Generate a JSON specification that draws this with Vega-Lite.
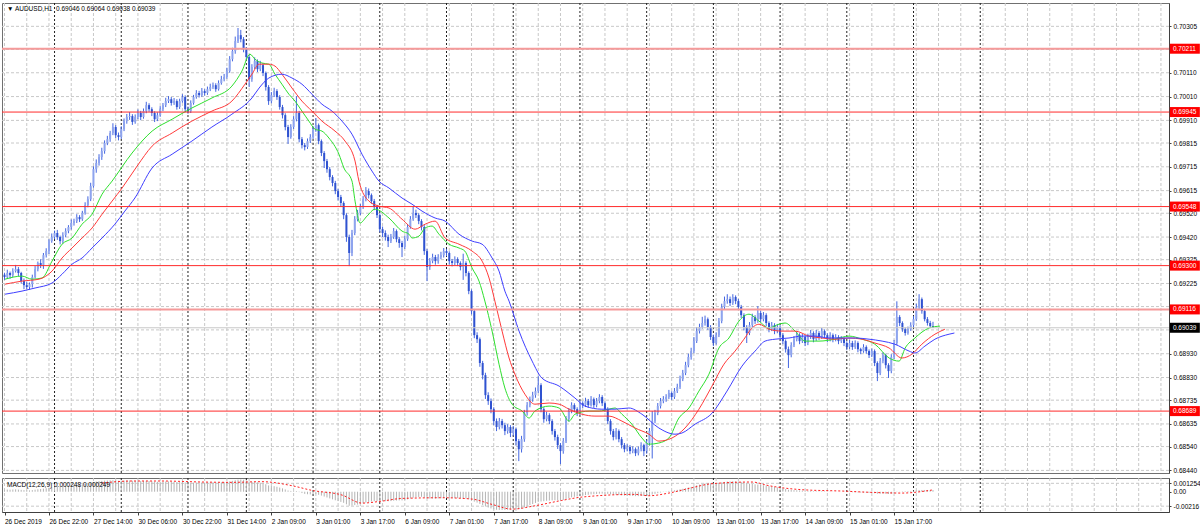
{
"$schema":"https://vega.github.io/schema/vega-lite/v6.json",
"padding":{"left":0,"top":2,"right":0,"bottom":0},
"background":"white",
"spacing":2,
"datasets":{
"bars":[
{"i":0,"o":0.69262,"h":0.6927,"l":0.6924,"c":0.69252,"m":0.0003},
{"i":1,"o":0.69252,"h":0.69283,"l":0.69245,"c":0.69269,"m":0.00032},
{"i":2,"o":0.69269,"h":0.69275,"l":0.69245,"c":0.6926,"m":0.0003},
{"i":3,"o":0.6926,"h":0.69289,"l":0.69251,"c":0.69277,"m":0.00033},
{"i":4,"o":0.69277,"h":0.69303,"l":0.69271,"c":0.69285,"m":0.00035},
{"i":5,"o":0.69285,"h":0.69294,"l":0.69256,"c":0.69269,"m":0.00032},
{"i":6,"o":0.69269,"h":0.69274,"l":0.69225,"c":0.69235,"m":0.00028},
{"i":7,"o":0.69235,"h":0.69246,"l":0.69201,"c":0.69218,"m":0.00024},
{"i":8,"o":0.69218,"h":0.69233,"l":0.69202,"c":0.6921,"m":0.0002},
{"i":9,"o":0.6921,"h":0.69229,"l":0.69199,"c":0.69222,"m":0.0002},
{"i":10,"o":0.69222,"h":0.69262,"l":0.69208,"c":0.69252,"m":0.00024},
{"i":11,"o":0.69252,"h":0.69298,"l":0.69246,"c":0.69285,"m":0.0003},
{"i":12,"o":0.69285,"h":0.69317,"l":0.69276,"c":0.69311,"m":0.00036},
{"i":13,"o":0.69311,"h":0.69327,"l":0.6929,"c":0.69302,"m":0.0004},
{"i":14,"o":0.69302,"h":0.69353,"l":0.69286,"c":0.69344,"m":0.00046},
{"i":15,"o":0.69344,"h":0.69373,"l":0.69334,"c":0.69361,"m":0.00052},
{"i":16,"o":0.69361,"h":0.69411,"l":0.69349,"c":0.69403,"m":0.0006},
{"i":17,"o":0.69403,"h":0.69435,"l":0.69396,"c":0.6942,"m":0.00068},
{"i":18,"o":0.6942,"h":0.69447,"l":0.69411,"c":0.69437,"m":0.00075},
{"i":19,"o":0.69437,"h":0.6945,"l":0.69408,"c":0.6942,"m":0.00078},
{"i":20,"o":0.6942,"h":0.69426,"l":0.69389,"c":0.69403,"m":0.0008},
{"i":21,"o":0.69403,"h":0.6944,"l":0.69393,"c":0.69428,"m":0.00084},
{"i":22,"o":0.69428,"h":0.69457,"l":0.69419,"c":0.69445,"m":0.00088},
{"i":23,"o":0.69445,"h":0.6947,"l":0.69436,"c":0.69462,"m":0.00092},
{"i":24,"o":0.69462,"h":0.69494,"l":0.69451,"c":0.69479,"m":0.00096},
{"i":25,"o":0.69479,"h":0.69497,"l":0.69468,"c":0.69487,"m":0.001},
{"i":26,"o":0.69487,"h":0.69516,"l":0.69479,"c":0.69504,"m":0.00104},
{"i":27,"o":0.69504,"h":0.69512,"l":0.69483,"c":0.69495,"m":0.00106},
{"i":28,"o":0.69495,"h":0.6953,"l":0.69488,"c":0.69521,"m":0.0011},
{"i":29,"o":0.69521,"h":0.69566,"l":0.69514,"c":0.69554,"m":0.00115},
{"i":30,"o":0.69554,"h":0.69591,"l":0.69545,"c":0.69579,"m":0.00122},
{"i":31,"o":0.69579,"h":0.69648,"l":0.69571,"c":0.69634,"m":0.00132},
{"i":32,"o":0.69634,"h":0.69717,"l":0.69627,"c":0.69705,"m":0.00145},
{"i":33,"o":0.69705,"h":0.69746,"l":0.6969,"c":0.69731,"m":0.00152},
{"i":34,"o":0.69731,"h":0.69768,"l":0.6972,"c":0.69756,"m":0.00158},
{"i":35,"o":0.69756,"h":0.69795,"l":0.69744,"c":0.69781,"m":0.00162},
{"i":36,"o":0.69781,"h":0.69826,"l":0.6977,"c":0.69815,"m":0.00166},
{"i":37,"o":0.69815,"h":0.69845,"l":0.69806,"c":0.69831,"m":0.00168},
{"i":38,"o":0.69831,"h":0.69866,"l":0.6982,"c":0.69857,"m":0.0017},
{"i":39,"o":0.69857,"h":0.69898,"l":0.69848,"c":0.69882,"m":0.00172},
{"i":40,"o":0.69882,"h":0.6989,"l":0.69836,"c":0.69848,"m":0.00168},
{"i":41,"o":0.69848,"h":0.69859,"l":0.69826,"c":0.6984,"m":0.00164},
{"i":42,"o":0.6984,"h":0.69885,"l":0.69832,"c":0.69873,"m":0.00164},
{"i":43,"o":0.69873,"h":0.69918,"l":0.69865,"c":0.69907,"m":0.00166},
{"i":44,"o":0.69907,"h":0.69937,"l":0.69896,"c":0.69924,"m":0.00168},
{"i":45,"o":0.69924,"h":0.69945,"l":0.69912,"c":0.69928,"m":0.00168},
{"i":46,"o":0.69928,"h":0.69936,"l":0.69891,"c":0.69903,"m":0.00164},
{"i":47,"o":0.69903,"h":0.69935,"l":0.69896,"c":0.69924,"m":0.00163},
{"i":48,"o":0.69924,"h":0.69956,"l":0.69915,"c":0.69941,"m":0.00163},
{"i":49,"o":0.69941,"h":0.6995,"l":0.69911,"c":0.69924,"m":0.0016},
{"i":50,"o":0.69924,"h":0.6996,"l":0.69917,"c":0.69949,"m":0.0016},
{"i":51,"o":0.69949,"h":0.69988,"l":0.6994,"c":0.69974,"m":0.00162},
{"i":52,"o":0.69974,"h":0.69982,"l":0.69946,"c":0.69957,"m":0.0016},
{"i":53,"o":0.69957,"h":0.69965,"l":0.69928,"c":0.69941,"m":0.00156},
{"i":54,"o":0.69941,"h":0.69948,"l":0.69903,"c":0.69915,"m":0.0015},
{"i":55,"o":0.69915,"h":0.69944,"l":0.69907,"c":0.69932,"m":0.00148},
{"i":56,"o":0.69932,"h":0.6997,"l":0.69925,"c":0.69957,"m":0.00148},
{"i":57,"o":0.69957,"h":0.69983,"l":0.69949,"c":0.69974,"m":0.0015},
{"i":58,"o":0.69974,"h":0.70005,"l":0.69966,"c":0.69991,"m":0.00152},
{"i":59,"o":0.69991,"h":0.70012,"l":0.69983,"c":0.69999,"m":0.00153},
{"i":60,"o":0.69999,"h":0.70008,"l":0.69972,"c":0.69983,"m":0.0015},
{"i":61,"o":0.69983,"h":0.70004,"l":0.69975,"c":0.69991,"m":0.00148},
{"i":62,"o":0.69991,"h":0.69999,"l":0.69955,"c":0.69966,"m":0.00144},
{"i":63,"o":0.69966,"h":0.70001,"l":0.69958,"c":0.69991,"m":0.00144},
{"i":64,"o":0.69991,"h":0.7002,"l":0.69984,"c":0.70008,"m":0.00146},
{"i":65,"o":0.70008,"h":0.70015,"l":0.69944,"c":0.69957,"m":0.00138},
{"i":66,"o":0.69957,"h":0.69968,"l":0.69938,"c":0.69949,"m":0.00132},
{"i":67,"o":0.69949,"h":0.69994,"l":0.69941,"c":0.69983,"m":0.00132},
{"i":68,"o":0.69983,"h":0.70017,"l":0.69976,"c":0.70008,"m":0.00134},
{"i":69,"o":0.70008,"h":0.70037,"l":0.70001,"c":0.70025,"m":0.00136},
{"i":70,"o":0.70025,"h":0.70034,"l":0.70006,"c":0.70016,"m":0.00136},
{"i":71,"o":0.70016,"h":0.70046,"l":0.70009,"c":0.70033,"m":0.00137},
{"i":72,"o":0.70033,"h":0.70041,"l":0.70014,"c":0.70025,"m":0.00136},
{"i":73,"o":0.70025,"h":0.70052,"l":0.70017,"c":0.70041,"m":0.00136},
{"i":74,"o":0.70041,"h":0.70064,"l":0.70033,"c":0.7005,"m":0.00137},
{"i":75,"o":0.7005,"h":0.70069,"l":0.70042,"c":0.70058,"m":0.00138},
{"i":76,"o":0.70058,"h":0.70066,"l":0.7003,"c":0.70041,"m":0.00136},
{"i":77,"o":0.70041,"h":0.70078,"l":0.70035,"c":0.70067,"m":0.00138},
{"i":78,"o":0.70067,"h":0.70097,"l":0.7006,"c":0.70083,"m":0.0014},
{"i":79,"o":0.70083,"h":0.70105,"l":0.70074,"c":0.70092,"m":0.00142},
{"i":80,"o":0.70092,"h":0.70131,"l":0.70085,"c":0.70117,"m":0.00146},
{"i":81,"o":0.70117,"h":0.7018,"l":0.7011,"c":0.70167,"m":0.00154},
{"i":82,"o":0.70167,"h":0.70215,"l":0.70158,"c":0.70201,"m":0.00162},
{"i":83,"o":0.70201,"h":0.70262,"l":0.7019,"c":0.70243,"m":0.00172},
{"i":84,"o":0.70243,"h":0.70298,"l":0.70235,"c":0.70268,"m":0.0018},
{"i":85,"o":0.70268,"h":0.7029,"l":0.70238,"c":0.70251,"m":0.00182},
{"i":86,"o":0.70251,"h":0.7026,"l":0.70196,"c":0.70209,"m":0.00178},
{"i":87,"o":0.70209,"h":0.70218,"l":0.70165,"c":0.70176,"m":0.0017},
{"i":88,"o":0.70176,"h":0.70184,"l":0.7005,"c":0.70083,"m":0.00152},
{"i":89,"o":0.70083,"h":0.70146,"l":0.70072,"c":0.70134,"m":0.00146},
{"i":90,"o":0.70134,"h":0.70175,"l":0.70125,"c":0.70159,"m":0.00144},
{"i":91,"o":0.70159,"h":0.70166,"l":0.70113,"c":0.70125,"m":0.00138},
{"i":92,"o":0.70125,"h":0.7016,"l":0.70117,"c":0.70142,"m":0.00134},
{"i":93,"o":0.70142,"h":0.7015,"l":0.70096,"c":0.70109,"m":0.00126},
{"i":94,"o":0.70109,"h":0.70115,"l":0.70035,"c":0.7005,"m":0.00112},
{"i":95,"o":0.7005,"h":0.70058,"l":0.69975,"c":0.69991,"m":0.00094},
{"i":96,"o":0.69991,"h":0.70029,"l":0.69982,"c":0.70016,"m":0.00086},
{"i":97,"o":0.70016,"h":0.70047,"l":0.70008,"c":0.70033,"m":0.00082},
{"i":98,"o":0.70033,"h":0.70041,"l":0.69996,"c":0.70008,"m":0.00074},
{"i":99,"o":0.70008,"h":0.70016,"l":0.69955,"c":0.69966,"m":0.00062},
{"i":100,"o":0.69966,"h":0.69975,"l":0.69918,"c":0.69932,"m":0.0005},
{"i":101,"o":0.69932,"h":0.6994,"l":0.69868,"c":0.69882,"m":0.00034},
{"i":102,"o":0.69882,"h":0.69891,"l":0.69811,"c":0.6984,"m":0.00018},
{"i":103,"o":0.6984,"h":0.69894,"l":0.69833,"c":0.69882,"m":0.00012},
{"i":104,"o":0.69882,"h":0.69928,"l":0.69874,"c":0.69915,"m":0.0001},
{"i":105,"o":0.69915,"h":0.70012,"l":0.69906,"c":0.69941,"m":0.0001},
{"i":106,"o":0.69941,"h":0.6995,"l":0.69818,"c":0.69831,"m":-0.00006},
{"i":107,"o":0.69831,"h":0.6984,"l":0.69792,"c":0.69806,"m":-0.0002},
{"i":108,"o":0.69806,"h":0.69815,"l":0.69784,"c":0.69798,"m":-0.00032},
{"i":109,"o":0.69798,"h":0.69834,"l":0.6979,"c":0.69823,"m":-0.00038},
{"i":110,"o":0.69823,"h":0.69852,"l":0.69815,"c":0.6984,"m":-0.0004},
{"i":111,"o":0.6984,"h":0.69886,"l":0.69832,"c":0.69873,"m":-0.00038},
{"i":112,"o":0.69873,"h":0.6992,"l":0.69862,"c":0.6989,"m":-0.00036},
{"i":113,"o":0.6989,"h":0.69897,"l":0.6981,"c":0.69823,"m":-0.00046},
{"i":114,"o":0.69823,"h":0.6983,"l":0.6976,"c":0.69773,"m":-0.00058},
{"i":115,"o":0.69773,"h":0.69781,"l":0.6971,"c":0.69739,"m":-0.00072},
{"i":116,"o":0.69739,"h":0.69748,"l":0.6969,"c":0.69705,"m":-0.00086},
{"i":117,"o":0.69705,"h":0.69714,"l":0.69658,"c":0.69672,"m":-0.001},
{"i":118,"o":0.69672,"h":0.6968,"l":0.69633,"c":0.69647,"m":-0.00114},
{"i":119,"o":0.69647,"h":0.69656,"l":0.696,"c":0.69613,"m":-0.00128},
{"i":120,"o":0.69613,"h":0.69622,"l":0.69574,"c":0.69588,"m":-0.0014},
{"i":121,"o":0.69588,"h":0.69597,"l":0.69548,"c":0.69563,"m":-0.00152},
{"i":122,"o":0.69563,"h":0.6957,"l":0.69495,"c":0.69512,"m":-0.00166},
{"i":123,"o":0.69512,"h":0.6952,"l":0.694,"c":0.6942,"m":-0.00188},
{"i":124,"o":0.6942,"h":0.6943,"l":0.69298,"c":0.69353,"m":-0.0021},
{"i":125,"o":0.69353,"h":0.6945,"l":0.6934,"c":0.69437,"m":-0.00208},
{"i":126,"o":0.69437,"h":0.69508,"l":0.69428,"c":0.69495,"m":-0.002},
{"i":127,"o":0.69495,"h":0.69534,"l":0.69486,"c":0.69521,"m":-0.00192},
{"i":128,"o":0.69521,"h":0.69559,"l":0.69512,"c":0.69546,"m":-0.00184},
{"i":129,"o":0.69546,"h":0.69592,"l":0.69538,"c":0.69579,"m":-0.00174},
{"i":130,"o":0.69579,"h":0.6963,"l":0.6957,"c":0.69613,"m":-0.00162},
{"i":131,"o":0.69613,"h":0.69624,"l":0.69582,"c":0.69596,"m":-0.00152},
{"i":132,"o":0.69596,"h":0.69603,"l":0.6956,"c":0.69571,"m":-0.00146},
{"i":133,"o":0.69571,"h":0.6958,"l":0.69533,"c":0.69546,"m":-0.00142},
{"i":134,"o":0.69546,"h":0.69555,"l":0.695,"c":0.69512,"m":-0.0014},
{"i":135,"o":0.69512,"h":0.6952,"l":0.6944,"c":0.69453,"m":-0.00142},
{"i":136,"o":0.69453,"h":0.69464,"l":0.6942,"c":0.69437,"m":-0.00142},
{"i":137,"o":0.69437,"h":0.69448,"l":0.69405,"c":0.6942,"m":-0.00142},
{"i":138,"o":0.6942,"h":0.6943,"l":0.69378,"c":0.69403,"m":-0.00142},
{"i":139,"o":0.69403,"h":0.69433,"l":0.69395,"c":0.6942,"m":-0.0014},
{"i":140,"o":0.6942,"h":0.69458,"l":0.69412,"c":0.69445,"m":-0.00134},
{"i":141,"o":0.69445,"h":0.69452,"l":0.69398,"c":0.69411,"m":-0.00132},
{"i":142,"o":0.69411,"h":0.6942,"l":0.69375,"c":0.69395,"m":-0.0013},
{"i":143,"o":0.69395,"h":0.69404,"l":0.69336,"c":0.69378,"m":-0.0013},
{"i":144,"o":0.69378,"h":0.69425,"l":0.6937,"c":0.69411,"m":-0.00124},
{"i":145,"o":0.69411,"h":0.69475,"l":0.69404,"c":0.69462,"m":-0.00114},
{"i":146,"o":0.69462,"h":0.69508,"l":0.69455,"c":0.69495,"m":-0.00102},
{"i":147,"o":0.69495,"h":0.6955,"l":0.69488,"c":0.69521,"m":-0.0009},
{"i":148,"o":0.69521,"h":0.69535,"l":0.695,"c":0.69512,"m":-0.00082},
{"i":149,"o":0.69512,"h":0.6952,"l":0.69474,"c":0.69487,"m":-0.00078},
{"i":150,"o":0.69487,"h":0.69495,"l":0.69448,"c":0.69462,"m":-0.00076},
{"i":151,"o":0.69462,"h":0.6947,"l":0.69345,"c":0.69361,"m":-0.00086},
{"i":152,"o":0.69361,"h":0.6937,"l":0.69235,"c":0.69294,"m":-0.00098},
{"i":153,"o":0.69294,"h":0.69332,"l":0.69282,"c":0.69319,"m":-0.00102},
{"i":154,"o":0.69319,"h":0.6935,"l":0.6931,"c":0.69336,"m":-0.00102},
{"i":155,"o":0.69336,"h":0.69345,"l":0.69304,"c":0.69319,"m":-0.00102},
{"i":156,"o":0.69319,"h":0.69348,"l":0.69308,"c":0.69336,"m":-0.001},
{"i":157,"o":0.69336,"h":0.69358,"l":0.69327,"c":0.69344,"m":-0.00098},
{"i":158,"o":0.69344,"h":0.69374,"l":0.69334,"c":0.69361,"m":-0.00094},
{"i":159,"o":0.69361,"h":0.6937,"l":0.6934,"c":0.69353,"m":-0.00092},
{"i":160,"o":0.69353,"h":0.6936,"l":0.69305,"c":0.69319,"m":-0.00094},
{"i":161,"o":0.69319,"h":0.69328,"l":0.69297,"c":0.69311,"m":-0.00096},
{"i":162,"o":0.69311,"h":0.69339,"l":0.69302,"c":0.69327,"m":-0.00096},
{"i":163,"o":0.69327,"h":0.69335,"l":0.69298,"c":0.69311,"m":-0.00096},
{"i":164,"o":0.69311,"h":0.69318,"l":0.6928,"c":0.69294,"m":-0.00098},
{"i":165,"o":0.69294,"h":0.6935,"l":0.6924,"c":0.69311,"m":-0.00098},
{"i":166,"o":0.69311,"h":0.69318,"l":0.69255,"c":0.69269,"m":-0.00102},
{"i":167,"o":0.69269,"h":0.69276,"l":0.6918,"c":0.69193,"m":-0.00112},
{"i":168,"o":0.69193,"h":0.692,"l":0.69095,"c":0.69109,"m":-0.00128},
{"i":169,"o":0.69109,"h":0.69118,"l":0.68995,"c":0.69008,"m":-0.00148},
{"i":170,"o":0.69008,"h":0.6902,"l":0.68975,"c":0.68991,"m":-0.00162},
{"i":171,"o":0.68991,"h":0.68998,"l":0.68875,"c":0.68891,"m":-0.00182},
{"i":172,"o":0.68891,"h":0.689,"l":0.68822,"c":0.6884,"m":-0.002},
{"i":173,"o":0.6884,"h":0.6885,"l":0.6874,"c":0.68756,"m":-0.0022},
{"i":174,"o":0.68756,"h":0.68768,"l":0.68715,"c":0.68731,"m":-0.00236},
{"i":175,"o":0.68731,"h":0.68742,"l":0.6868,"c":0.68697,"m":-0.0025},
{"i":176,"o":0.68697,"h":0.68705,"l":0.6863,"c":0.68647,"m":-0.00262},
{"i":177,"o":0.68647,"h":0.68658,"l":0.68605,"c":0.68622,"m":-0.0027},
{"i":178,"o":0.68622,"h":0.6866,"l":0.68612,"c":0.68647,"m":-0.00272},
{"i":179,"o":0.68647,"h":0.68656,"l":0.68616,"c":0.6863,"m":-0.00272},
{"i":180,"o":0.6863,"h":0.6864,"l":0.68588,"c":0.68605,"m":-0.00272},
{"i":181,"o":0.68605,"h":0.68634,"l":0.68594,"c":0.68622,"m":-0.0027},
{"i":182,"o":0.68622,"h":0.6863,"l":0.6858,"c":0.68597,"m":-0.00268},
{"i":183,"o":0.68597,"h":0.68627,"l":0.68585,"c":0.68613,"m":-0.00264},
{"i":184,"o":0.68613,"h":0.6862,"l":0.68545,"c":0.68563,"m":-0.00262},
{"i":185,"o":0.68563,"h":0.68572,"l":0.68479,"c":0.68529,"m":-0.0026},
{"i":186,"o":0.68529,"h":0.68585,"l":0.68515,"c":0.68571,"m":-0.00254},
{"i":187,"o":0.68571,"h":0.68694,"l":0.6856,"c":0.68681,"m":-0.00236},
{"i":188,"o":0.68681,"h":0.68727,"l":0.6867,"c":0.68714,"m":-0.00218},
{"i":189,"o":0.68714,"h":0.6875,"l":0.68705,"c":0.68739,"m":-0.002},
{"i":190,"o":0.68739,"h":0.6877,"l":0.68728,"c":0.68756,"m":-0.00184},
{"i":191,"o":0.68756,"h":0.68788,"l":0.68745,"c":0.68773,"m":-0.00168},
{"i":192,"o":0.68773,"h":0.68836,"l":0.68765,"c":0.68798,"m":-0.00152},
{"i":193,"o":0.68798,"h":0.68806,"l":0.68684,"c":0.68697,"m":-0.00146},
{"i":194,"o":0.68697,"h":0.68705,"l":0.6864,"c":0.68655,"m":-0.00142},
{"i":195,"o":0.68655,"h":0.68686,"l":0.68646,"c":0.68672,"m":-0.00136},
{"i":196,"o":0.68672,"h":0.6868,"l":0.68634,"c":0.68647,"m":-0.00132},
{"i":197,"o":0.68647,"h":0.68655,"l":0.6859,"c":0.68605,"m":-0.0013},
{"i":198,"o":0.68605,"h":0.68614,"l":0.68565,"c":0.6858,"m":-0.00128},
{"i":199,"o":0.6858,"h":0.6859,"l":0.6853,"c":0.68546,"m":-0.00128},
{"i":200,"o":0.68546,"h":0.68555,"l":0.68466,"c":0.68521,"m":-0.00128},
{"i":201,"o":0.68521,"h":0.68576,"l":0.6851,"c":0.68563,"m":-0.00124},
{"i":202,"o":0.68563,"h":0.68668,"l":0.68555,"c":0.68655,"m":-0.0011},
{"i":203,"o":0.68655,"h":0.68702,"l":0.68645,"c":0.68689,"m":-0.00096},
{"i":204,"o":0.68689,"h":0.68726,"l":0.6868,"c":0.68714,"m":-0.00084},
{"i":205,"o":0.68714,"h":0.68722,"l":0.68684,"c":0.68697,"m":-0.00076},
{"i":206,"o":0.68697,"h":0.68705,"l":0.68668,"c":0.68681,"m":-0.0007},
{"i":207,"o":0.68681,"h":0.68735,"l":0.68672,"c":0.68722,"m":-0.00062},
{"i":208,"o":0.68722,"h":0.6873,"l":0.68702,"c":0.68714,"m":-0.00056},
{"i":209,"o":0.68714,"h":0.68745,"l":0.68706,"c":0.68731,"m":-0.0005},
{"i":210,"o":0.68731,"h":0.6874,"l":0.68703,"c":0.68714,"m":-0.00046},
{"i":211,"o":0.68714,"h":0.68752,"l":0.68708,"c":0.68739,"m":-0.0004},
{"i":212,"o":0.68739,"h":0.68746,"l":0.68702,"c":0.68714,"m":-0.00038},
{"i":213,"o":0.68714,"h":0.68744,"l":0.68705,"c":0.68731,"m":-0.00034},
{"i":214,"o":0.68731,"h":0.6876,"l":0.68722,"c":0.68748,"m":-0.0003},
{"i":215,"o":0.68748,"h":0.68756,"l":0.6871,"c":0.68722,"m":-0.00028},
{"i":216,"o":0.68722,"h":0.6873,"l":0.68686,"c":0.68697,"m":-0.00028},
{"i":217,"o":0.68697,"h":0.68705,"l":0.68635,"c":0.68647,"m":-0.00032},
{"i":218,"o":0.68647,"h":0.68655,"l":0.6859,"c":0.68605,"m":-0.00038},
{"i":219,"o":0.68605,"h":0.68614,"l":0.68566,"c":0.6858,"m":-0.00044},
{"i":220,"o":0.6858,"h":0.68618,"l":0.6857,"c":0.68605,"m":-0.00046},
{"i":221,"o":0.68605,"h":0.68612,"l":0.68558,"c":0.68571,"m":-0.0005},
{"i":222,"o":0.68571,"h":0.6858,"l":0.68532,"c":0.68546,"m":-0.00054},
{"i":223,"o":0.68546,"h":0.68555,"l":0.68516,"c":0.68529,"m":-0.00058},
{"i":224,"o":0.68529,"h":0.6855,"l":0.6852,"c":0.68538,"m":-0.0006},
{"i":225,"o":0.68538,"h":0.68546,"l":0.68508,"c":0.68521,"m":-0.00062},
{"i":226,"o":0.68521,"h":0.68541,"l":0.68512,"c":0.68529,"m":-0.00064},
{"i":227,"o":0.68529,"h":0.68536,"l":0.685,"c":0.68512,"m":-0.00066},
{"i":228,"o":0.68512,"h":0.6854,"l":0.68503,"c":0.68529,"m":-0.00066},
{"i":229,"o":0.68529,"h":0.68558,"l":0.6852,"c":0.68546,"m":-0.00064},
{"i":230,"o":0.68546,"h":0.68552,"l":0.685,"c":0.68521,"m":-0.00064},
{"i":231,"o":0.68521,"h":0.68568,"l":0.6851,"c":0.68555,"m":-0.0006},
{"i":232,"o":0.68555,"h":0.68618,"l":0.68545,"c":0.68605,"m":-0.00052},
{"i":233,"o":0.68605,"h":0.68689,"l":0.6849,"c":0.68647,"m":-0.00042},
{"i":234,"o":0.68647,"h":0.68694,"l":0.68638,"c":0.68681,"m":-0.00032},
{"i":235,"o":0.68681,"h":0.68723,"l":0.68672,"c":0.6871,"m":-0.00022},
{"i":236,"o":0.6871,"h":0.68744,"l":0.687,"c":0.68731,"m":-0.00012},
{"i":237,"o":0.68731,"h":0.68752,"l":0.68722,"c":0.68739,"m":-0.00004},
{"i":238,"o":0.68739,"h":0.6876,"l":0.68728,"c":0.68748,"m":0.00004},
{"i":239,"o":0.68748,"h":0.68778,"l":0.6874,"c":0.68765,"m":0.00012},
{"i":240,"o":0.68765,"h":0.68772,"l":0.68736,"c":0.68748,"m":0.00016},
{"i":241,"o":0.68748,"h":0.68786,"l":0.6874,"c":0.68773,"m":0.00022},
{"i":242,"o":0.68773,"h":0.68804,"l":0.68765,"c":0.6879,"m":0.00028},
{"i":243,"o":0.6879,"h":0.68838,"l":0.68782,"c":0.68823,"m":0.00036},
{"i":244,"o":0.68823,"h":0.68862,"l":0.68815,"c":0.68849,"m":0.00044},
{"i":245,"o":0.68849,"h":0.68896,"l":0.6884,"c":0.68882,"m":0.00052},
{"i":246,"o":0.68882,"h":0.6893,"l":0.68873,"c":0.68916,"m":0.00062},
{"i":247,"o":0.68916,"h":0.68955,"l":0.68905,"c":0.68941,"m":0.00072},
{"i":248,"o":0.68941,"h":0.69,"l":0.68932,"c":0.68983,"m":0.00084},
{"i":249,"o":0.68983,"h":0.69042,"l":0.68975,"c":0.69025,"m":0.00096},
{"i":250,"o":0.69025,"h":0.69056,"l":0.69015,"c":0.69042,"m":0.00106},
{"i":251,"o":0.69042,"h":0.69085,"l":0.69035,"c":0.69059,"m":0.00116},
{"i":252,"o":0.69059,"h":0.6909,"l":0.69048,"c":0.69075,"m":0.00124},
{"i":253,"o":0.69075,"h":0.69082,"l":0.6903,"c":0.69042,"m":0.00128},
{"i":254,"o":0.69042,"h":0.6905,"l":0.68988,"c":0.69,"m":0.00128},
{"i":255,"o":0.69,"h":0.6901,"l":0.68962,"c":0.68975,"m":0.00126},
{"i":256,"o":0.68975,"h":0.6902,"l":0.68968,"c":0.69008,"m":0.00126},
{"i":257,"o":0.69008,"h":0.6908,"l":0.69,"c":0.69067,"m":0.0013},
{"i":258,"o":0.69067,"h":0.6914,"l":0.69058,"c":0.69126,"m":0.00138},
{"i":259,"o":0.69126,"h":0.6917,"l":0.69118,"c":0.69151,"m":0.00146},
{"i":260,"o":0.69151,"h":0.6918,"l":0.6914,"c":0.69159,"m":0.00152},
{"i":261,"o":0.69159,"h":0.6917,"l":0.6913,"c":0.69143,"m":0.00154},
{"i":262,"o":0.69143,"h":0.6918,"l":0.69135,"c":0.69168,"m":0.00156},
{"i":263,"o":0.69168,"h":0.69175,"l":0.69138,"c":0.69151,"m":0.00156},
{"i":264,"o":0.69151,"h":0.6916,"l":0.69115,"c":0.69126,"m":0.00152},
{"i":265,"o":0.69126,"h":0.69135,"l":0.6908,"c":0.69092,"m":0.00146},
{"i":266,"o":0.69092,"h":0.691,"l":0.69028,"c":0.69042,"m":0.00136},
{"i":267,"o":0.69042,"h":0.6905,"l":0.68975,"c":0.69017,"m":0.00126},
{"i":268,"o":0.69017,"h":0.69063,"l":0.69008,"c":0.6905,"m":0.0012},
{"i":269,"o":0.6905,"h":0.69098,"l":0.69042,"c":0.69084,"m":0.00116},
{"i":270,"o":0.69084,"h":0.69092,"l":0.69055,"c":0.69067,"m":0.0011},
{"i":271,"o":0.69067,"h":0.6913,"l":0.6906,"c":0.69101,"m":0.00108},
{"i":272,"o":0.69101,"h":0.6911,"l":0.69062,"c":0.69075,"m":0.00102},
{"i":273,"o":0.69075,"h":0.69105,"l":0.69066,"c":0.69092,"m":0.00098},
{"i":274,"o":0.69092,"h":0.691,"l":0.69046,"c":0.69059,"m":0.00092},
{"i":275,"o":0.69059,"h":0.69066,"l":0.6902,"c":0.69033,"m":0.00084},
{"i":276,"o":0.69033,"h":0.69063,"l":0.69025,"c":0.6905,"m":0.00078},
{"i":277,"o":0.6905,"h":0.69058,"l":0.69012,"c":0.69025,"m":0.00072},
{"i":278,"o":0.69025,"h":0.69055,"l":0.69016,"c":0.69042,"m":0.00066},
{"i":279,"o":0.69042,"h":0.6905,"l":0.68995,"c":0.69008,"m":0.00058},
{"i":280,"o":0.69008,"h":0.69016,"l":0.6897,"c":0.68983,"m":0.0005},
{"i":281,"o":0.68983,"h":0.6899,"l":0.68935,"c":0.68949,"m":0.0004},
{"i":282,"o":0.68949,"h":0.6896,"l":0.6887,"c":0.68924,"m":0.0003},
{"i":283,"o":0.68924,"h":0.68978,"l":0.68915,"c":0.68966,"m":0.00026},
{"i":284,"o":0.68966,"h":0.69004,"l":0.68958,"c":0.68991,"m":0.00024},
{"i":285,"o":0.68991,"h":0.69022,"l":0.68982,"c":0.69008,"m":0.00022},
{"i":286,"o":0.69008,"h":0.69016,"l":0.6897,"c":0.68983,"m":0.00018},
{"i":287,"o":0.68983,"h":0.69013,"l":0.68975,"c":0.69,"m":0.00016},
{"i":288,"o":0.69,"h":0.69008,"l":0.68962,"c":0.68975,"m":0.00012},
{"i":289,"o":0.68975,"h":0.69014,"l":0.68966,"c":0.69,"m":0.0001},
{"i":290,"o":0.69,"h":0.6903,"l":0.68992,"c":0.69017,"m":0.0001},
{"i":291,"o":0.69017,"h":0.69024,"l":0.68978,"c":0.68991,"m":0.00008},
{"i":292,"o":0.68991,"h":0.6903,"l":0.68984,"c":0.69017,"m":0.00008},
{"i":293,"o":0.69017,"h":0.69025,"l":0.68988,"c":0.69,"m":0.00006},
{"i":294,"o":0.69,"h":0.69038,"l":0.68992,"c":0.69025,"m":0.00008},
{"i":295,"o":0.69025,"h":0.69032,"l":0.68996,"c":0.69008,"m":0.00006},
{"i":296,"o":0.69008,"h":0.69016,"l":0.68978,"c":0.68991,"m":0.00004},
{"i":297,"o":0.68991,"h":0.6902,"l":0.68982,"c":0.69008,"m":0.00004},
{"i":298,"o":0.69008,"h":0.69015,"l":0.68978,"c":0.68991,"m":0.00002},
{"i":299,"o":0.68991,"h":0.69012,"l":0.68982,"c":0.69,"m":0.00002},
{"i":300,"o":0.69,"h":0.69008,"l":0.6897,"c":0.68983,"m":0},
{"i":301,"o":0.68983,"h":0.69004,"l":0.68975,"c":0.68991,"m":0},
{"i":302,"o":0.68991,"h":0.68998,"l":0.68962,"c":0.68975,"m":-0.00002},
{"i":303,"o":0.68975,"h":0.68982,"l":0.68945,"c":0.68958,"m":-0.00006},
{"i":304,"o":0.68958,"h":0.68988,"l":0.6895,"c":0.68975,"m":-0.00006},
{"i":305,"o":0.68975,"h":0.68984,"l":0.68946,"c":0.68958,"m":-0.00008},
{"i":306,"o":0.68958,"h":0.68986,"l":0.6895,"c":0.68975,"m":-0.00008},
{"i":307,"o":0.68975,"h":0.68982,"l":0.68936,"c":0.68949,"m":-0.0001},
{"i":308,"o":0.68949,"h":0.68955,"l":0.68928,"c":0.68941,"m":-0.00012},
{"i":309,"o":0.68941,"h":0.6897,"l":0.68934,"c":0.68958,"m":-0.00012},
{"i":310,"o":0.68958,"h":0.68965,"l":0.6893,"c":0.68941,"m":-0.00014},
{"i":311,"o":0.68941,"h":0.68948,"l":0.68912,"c":0.68924,"m":-0.00016},
{"i":312,"o":0.68924,"h":0.68952,"l":0.68916,"c":0.68941,"m":-0.00016},
{"i":313,"o":0.68941,"h":0.68948,"l":0.68878,"c":0.68891,"m":-0.00022},
{"i":314,"o":0.68891,"h":0.68898,"l":0.68815,"c":0.68849,"m":-0.0003},
{"i":315,"o":0.68849,"h":0.68912,"l":0.6884,"c":0.68899,"m":-0.0003},
{"i":316,"o":0.68899,"h":0.68936,"l":0.6889,"c":0.68924,"m":-0.00028},
{"i":317,"o":0.68924,"h":0.6893,"l":0.68868,"c":0.68882,"m":-0.0003},
{"i":318,"o":0.68882,"h":0.6889,"l":0.68828,"c":0.68857,"m":-0.00034},
{"i":319,"o":0.68857,"h":0.68928,"l":0.68848,"c":0.68916,"m":-0.0003},
{"i":320,"o":0.68916,"h":0.68988,"l":0.68908,"c":0.68975,"m":-0.00022},
{"i":321,"o":0.68975,"h":0.6915,"l":0.68966,"c":0.69084,"m":-0.00006},
{"i":322,"o":0.69084,"h":0.69092,"l":0.69046,"c":0.69059,"m":0.00002},
{"i":323,"o":0.69059,"h":0.69066,"l":0.69022,"c":0.69033,"m":0.00006},
{"i":324,"o":0.69033,"h":0.6904,"l":0.69006,"c":0.69017,"m":0.00008},
{"i":325,"o":0.69017,"h":0.69044,"l":0.6901,"c":0.69033,"m":0.0001},
{"i":326,"o":0.69033,"h":0.69062,"l":0.69026,"c":0.6905,"m":0.00012},
{"i":327,"o":0.6905,"h":0.69088,"l":0.69042,"c":0.69075,"m":0.00014},
{"i":328,"o":0.69075,"h":0.6914,"l":0.69068,"c":0.69126,"m":0.0002},
{"i":329,"o":0.69126,"h":0.6918,"l":0.69118,"c":0.69159,"m":0.00026},
{"i":330,"o":0.69159,"h":0.69166,"l":0.69098,"c":0.69109,"m":0.00026},
{"i":331,"o":0.69109,"h":0.69118,"l":0.69066,"c":0.69075,"m":0.00026},
{"i":332,"o":0.69075,"h":0.69084,"l":0.69048,"c":0.69059,"m":0.00026},
{"i":333,"o":0.69059,"h":0.69068,"l":0.69038,"c":0.69046,"m":0.00025},
{"i":334,"o":0.69046,"h":0.69064,"l":0.69038,"c":0.69039,"m":0.000248}
],
"ma":[
{"s":"g","i":0.2,"v":0.69243},{"s":"g","i":6.3,"v":0.69256},{"s":"g","i":9.9,"v":0.69243},{"s":"g","i":13.5,"v":0.69248},{"s":"g","i":17.1,"v":0.69319},{"s":"g","i":20.7,"v":0.6939},{"s":"g","i":24.3,"v":0.69416},{"s":"g","i":27.9,"v":0.69474},{"s":"g","i":31.5,"v":0.69516},{"s":"g","i":35.1,"v":0.696},{"s":"g","i":38.7,"v":0.69655},{"s":"g","i":45.9,"v":0.69773},{"s":"g","i":53.1,"v":0.69865},{"s":"g","i":60.3,"v":0.69915},{"s":"g","i":67.4,"v":0.69962},{"s":"g","i":74.6,"v":0.70004},{"s":"g","i":81.8,"v":0.70054},{"s":"g","i":85.4,"v":0.70117},{"s":"g","i":88.3,"v":0.70188},{"s":"g","i":90.1,"v":0.70167},{"s":"g","i":92.6,"v":0.70151},{"s":"g","i":95.1,"v":0.70146},{"s":"g","i":97.3,"v":0.70104},{"s":"g","i":99.8,"v":0.70062},{"s":"g","i":102.3,"v":0.7002},{"s":"g","i":104.5,"v":0.69991},{"s":"g","i":107,"v":0.69949},{"s":"g","i":109.5,"v":0.69907},{"s":"g","i":111.7,"v":0.69873},{"s":"g","i":114.2,"v":0.69865},{"s":"g","i":116.7,"v":0.69836},{"s":"g","i":120.3,"v":0.69768},{"s":"g","i":122.1,"v":0.6971},{"s":"g","i":125,"v":0.69655},{"s":"g","i":126.1,"v":0.69571},{"s":"g","i":127.9,"v":0.69479},{"s":"g","i":130.4,"v":0.69508},{"s":"g","i":133.3,"v":0.69537},{"s":"g","i":138.3,"v":0.695},{"s":"g","i":143,"v":0.69445},{"s":"g","i":145.5,"v":0.69432},{"s":"g","i":146.6,"v":0.69416},{"s":"g","i":149.1,"v":0.69424},{"s":"g","i":151.3,"v":0.69458},{"s":"g","i":153.8,"v":0.69466},{"s":"g","i":156.3,"v":0.69432},{"s":"g","i":159.9,"v":0.6939},{"s":"g","i":163.5,"v":0.69374},{"s":"g","i":165.6,"v":0.69361},{"s":"g","i":168.2,"v":0.6929},{"s":"g","i":170.7,"v":0.69235},{"s":"g","i":172.8,"v":0.69151},{"s":"g","i":175.4,"v":0.69025},{"s":"g","i":177.9,"v":0.68886},{"s":"g","i":180,"v":0.68786},{"s":"g","i":182.6,"v":0.68718},{"s":"g","i":186.2,"v":0.68689},{"s":"g","i":188.7,"v":0.6866},{"s":"g","i":190.8,"v":0.68689},{"s":"g","i":195.9,"v":0.6871},{"s":"g","i":199.5,"v":0.68702},{"s":"g","i":203.1,"v":0.68647},{"s":"g","i":205.2,"v":0.68676},{"s":"g","i":210.3,"v":0.68689},{"s":"g","i":213.9,"v":0.68689},{"s":"g","i":217.4,"v":0.68697},{"s":"g","i":219.6,"v":0.68702},{"s":"g","i":222.1,"v":0.68676},{"s":"g","i":225.7,"v":0.68634},{"s":"g","i":229.3,"v":0.68576},{"s":"g","i":231.8,"v":0.6855},{"s":"g","i":235.4,"v":0.68555},{"s":"g","i":239,"v":0.68576},{"s":"g","i":242.6,"v":0.6866},{"s":"g","i":246.2,"v":0.68702},{"s":"g","i":249.8,"v":0.68773},{"s":"g","i":253.4,"v":0.68844},{"s":"g","i":257,"v":0.68954},{"s":"g","i":260.6,"v":0.68996},{"s":"g","i":264.2,"v":0.69067},{"s":"g","i":267.8,"v":0.69096},{"s":"g","i":271.4,"v":0.69067},{"s":"g","i":275,"v":0.69038},{"s":"g","i":278.6,"v":0.69054},{"s":"g","i":280.8,"v":0.69059},{"s":"g","i":284.4,"v":0.69025},{"s":"g","i":288,"v":0.68983},{"s":"g","i":293,"v":0.68983},{"s":"g","i":298.7,"v":0.68991},{"s":"g","i":303.8,"v":0.69004},{"s":"g","i":308.5,"v":0.68991},{"s":"g","i":313.1,"v":0.6897},{"s":"g","i":318.2,"v":0.68912},{"s":"g","i":321.8,"v":0.68899},{"s":"g","i":324,"v":0.68954},{"s":"g","i":327.5,"v":0.68996},{"s":"g","i":332.6,"v":0.69038},{"s":"g","i":336.5,"v":0.69046},
{"s":"r","i":0.2,"v":0.69222},{"s":"r","i":6.3,"v":0.69235},{"s":"r","i":12.4,"v":0.69243},{"s":"r","i":17.1,"v":0.69277},{"s":"r","i":20.7,"v":0.69332},{"s":"r","i":24.3,"v":0.69374},{"s":"r","i":27.9,"v":0.69416},{"s":"r","i":31.5,"v":0.69458},{"s":"r","i":35.1,"v":0.69516},{"s":"r","i":38.7,"v":0.69571},{"s":"r","i":42.3,"v":0.69626},{"s":"r","i":47.7,"v":0.69718},{"s":"r","i":53.1,"v":0.69802},{"s":"r","i":60.3,"v":0.69857},{"s":"r","i":67.4,"v":0.69907},{"s":"r","i":74.6,"v":0.69949},{"s":"r","i":81.8,"v":0.69991},{"s":"r","i":86.5,"v":0.70062},{"s":"r","i":89,"v":0.70104},{"s":"r","i":91.6,"v":0.70146},{"s":"r","i":95.1,"v":0.70146},{"s":"r","i":97.3,"v":0.70138},{"s":"r","i":99.8,"v":0.70104},{"s":"r","i":103.4,"v":0.70046},{"s":"r","i":107,"v":0.69991},{"s":"r","i":110.6,"v":0.69949},{"s":"r","i":114.2,"v":0.69907},{"s":"r","i":118.9,"v":0.69865},{"s":"r","i":122.5,"v":0.69823},{"s":"r","i":126.1,"v":0.69739},{"s":"r","i":127.5,"v":0.69655},{"s":"r","i":131.1,"v":0.69571},{"s":"r","i":134.7,"v":0.6955},{"s":"r","i":138.3,"v":0.69542},{"s":"r","i":143,"v":0.69495},{"s":"r","i":147.7,"v":0.69453},{"s":"r","i":151.3,"v":0.69474},{"s":"r","i":154.9,"v":0.69487},{"s":"r","i":158.5,"v":0.69416},{"s":"r","i":163.5,"v":0.6939},{"s":"r","i":168.2,"v":0.69361},{"s":"r","i":171.8,"v":0.69319},{"s":"r","i":174.3,"v":0.69248},{"s":"r","i":176.4,"v":0.69151},{"s":"r","i":179,"v":0.69025},{"s":"r","i":181.5,"v":0.68912},{"s":"r","i":183.6,"v":0.68844},{"s":"r","i":187.2,"v":0.6876},{"s":"r","i":190.8,"v":0.68718},{"s":"r","i":195.9,"v":0.68723},{"s":"r","i":199.5,"v":0.68718},{"s":"r","i":203.1,"v":0.68697},{"s":"r","i":207.7,"v":0.68676},{"s":"r","i":212.4,"v":0.68668},{"s":"r","i":217.4,"v":0.68668},{"s":"r","i":222.1,"v":0.68647},{"s":"r","i":226.8,"v":0.68618},{"s":"r","i":231.8,"v":0.68592},{"s":"r","i":235.4,"v":0.68563},{"s":"r","i":240.1,"v":0.68576},{"s":"r","i":244.8,"v":0.68618},{"s":"r","i":249.8,"v":0.68697},{"s":"r","i":254.5,"v":0.68794},{"s":"r","i":258.8,"v":0.68886},{"s":"r","i":262.8,"v":0.68941},{"s":"r","i":266,"v":0.68991},{"s":"r","i":268.9,"v":0.69038},{"s":"r","i":271.4,"v":0.69054},{"s":"r","i":275,"v":0.69033},{"s":"r","i":279.7,"v":0.69025},{"s":"r","i":284.4,"v":0.69025},{"s":"r","i":289.4,"v":0.69004},{"s":"r","i":294.1,"v":0.68996},{"s":"r","i":298.7,"v":0.68991},{"s":"r","i":303.8,"v":0.68996},{"s":"r","i":308.5,"v":0.68991},{"s":"r","i":313.1,"v":0.68975},{"s":"r","i":318.2,"v":0.68954},{"s":"r","i":322.8,"v":0.68912},{"s":"r","i":326.4,"v":0.68928},{"s":"r","i":330,"v":0.6897},{"s":"r","i":334.7,"v":0.69012},{"s":"r","i":338.3,"v":0.69033},
{"s":"b","i":0.2,"v":0.6918},{"s":"b","i":6.3,"v":0.69193},{"s":"b","i":11,"v":0.69206},{"s":"b","i":17.1,"v":0.69227},{"s":"b","i":20.7,"v":0.69264},{"s":"b","i":24.3,"v":0.69306},{"s":"b","i":27.9,"v":0.69332},{"s":"b","i":31.5,"v":0.69374},{"s":"b","i":35.1,"v":0.69416},{"s":"b","i":39.7,"v":0.69474},{"s":"b","i":43.3,"v":0.69529},{"s":"b","i":46.9,"v":0.69584},{"s":"b","i":53.1,"v":0.6971},{"s":"b","i":60.3,"v":0.69768},{"s":"b","i":67.4,"v":0.69823},{"s":"b","i":74.6,"v":0.69882},{"s":"b","i":81.8,"v":0.69936},{"s":"b","i":89,"v":0.70004},{"s":"b","i":91.6,"v":0.70046},{"s":"b","i":95.1,"v":0.70088},{"s":"b","i":99.8,"v":0.70104},{"s":"b","i":103.4,"v":0.70088},{"s":"b","i":107,"v":0.70062},{"s":"b","i":110.6,"v":0.7002},{"s":"b","i":114.2,"v":0.69978},{"s":"b","i":117.8,"v":0.69949},{"s":"b","i":121.4,"v":0.69907},{"s":"b","i":125,"v":0.69852},{"s":"b","i":128.6,"v":0.69768},{"s":"b","i":132.2,"v":0.69697},{"s":"b","i":134.7,"v":0.69655},{"s":"b","i":138.3,"v":0.69626},{"s":"b","i":143,"v":0.69584},{"s":"b","i":146.6,"v":0.69558},{"s":"b","i":150.2,"v":0.69529},{"s":"b","i":154.9,"v":0.695},{"s":"b","i":158.5,"v":0.69487},{"s":"b","i":163.5,"v":0.69432},{"s":"b","i":168.2,"v":0.69403},{"s":"b","i":171.8,"v":0.6939},{"s":"b","i":175.4,"v":0.69332},{"s":"b","i":177.9,"v":0.69277},{"s":"b","i":180,"v":0.69193},{"s":"b","i":181.5,"v":0.69151},{"s":"b","i":185.1,"v":0.69025},{"s":"b","i":189.8,"v":0.68899},{"s":"b","i":193.3,"v":0.68828},{"s":"b","i":199.5,"v":0.68794},{"s":"b","i":205.2,"v":0.68744},{"s":"b","i":208.8,"v":0.6871},{"s":"b","i":214.9,"v":0.68697},{"s":"b","i":219.6,"v":0.68697},{"s":"b","i":224.6,"v":0.68702},{"s":"b","i":229.3,"v":0.68676},{"s":"b","i":235.4,"v":0.68618},{"s":"b","i":241.2,"v":0.68592},{"s":"b","i":243.7,"v":0.68597},{"s":"b","i":248.4,"v":0.68634},{"s":"b","i":254.5,"v":0.6868},{"s":"b","i":259.9,"v":0.68773},{"s":"b","i":265.3,"v":0.68878},{"s":"b","i":270,"v":0.68941},{"s":"b","i":273.6,"v":0.68983},{"s":"b","i":277.2,"v":0.68991},{"s":"b","i":282.2,"v":0.68996},{"s":"b","i":286.9,"v":0.69004},{"s":"b","i":291.6,"v":0.69004},{"s":"b","i":296.6,"v":0.68996},{"s":"b","i":301.3,"v":0.68996},{"s":"b","i":306,"v":0.68996},{"s":"b","i":311,"v":0.68991},{"s":"b","i":315.7,"v":0.68983},{"s":"b","i":320.3,"v":0.6897},{"s":"b","i":325.4,"v":0.68941},{"s":"b","i":327.5,"v":0.68933},{"s":"b","i":331.1,"v":0.68962},{"s":"b","i":334.7,"v":0.68991},{"s":"b","i":339.8,"v":0.69012},{"s":"b","i":341.7,"v":0.69017}
],
"sig":[
{"i":35.1,"v":0.0013},{"i":45.9,"v":0.0016},{"i":56.7,"v":0.0016},{"i":71,"v":0.00145},{"i":81.8,"v":0.0014},{"i":92.6,"v":0.0015},{"i":103.4,"v":0.0009},{"i":110.6,"v":0.0002},{"i":121.4,"v":-0.0005},{"i":128.6,"v":-0.0017},{"i":135.8,"v":-0.0014},{"i":143,"v":-0.001},{"i":157.4,"v":-0.0009},{"i":168.2,"v":-0.0011},{"i":175.4,"v":-0.0019},{"i":182.6,"v":-0.0026},{"i":190.8,"v":-0.0021},{"i":200.5,"v":-0.0013},{"i":207.7,"v":-0.0008},{"i":226.8,"v":-0.0004},{"i":231.8,"v":-0.0006},{"i":239,"v":-0.0002},{"i":247.3,"v":0.0006},{"i":254.5,"v":0.0012},{"i":268.9,"v":0.00145},{"i":275,"v":0.0009},{"i":286.9,"v":0.0003},{"i":301.3,"v":0.0001},{"i":312.1,"v":-0.0001},{"i":322.8,"v":-0.0002},{"i":333.6,"v":0.000249}
],
"hg":[{"p":0.70305},{"p":0.70208},{"p":0.7011},{"p":0.7001},{"p":0.6991},{"p":0.69815},{"p":0.69715},{"p":0.69615},{"p":0.6952},{"p":0.6942},{"p":0.69325},{"p":0.69225},{"p":0.69128},{"p":0.6903},{"p":0.6893},{"p":0.6883},{"p":0.68735},{"p":0.68635},{"p":0.6854},{"p":0.6844}],
"vg":[{"i":0},{"i":8},{"i":16},{"i":24},{"i":32},{"i":40},{"i":48},{"i":56},{"i":64},{"i":72},{"i":80},{"i":88},{"i":96},{"i":104},{"i":112},{"i":120},{"i":128},{"i":136},{"i":144},{"i":152},{"i":160},{"i":168},{"i":176},{"i":184},{"i":192},{"i":200},{"i":208},{"i":216},{"i":224},{"i":232},{"i":240},{"i":248},{"i":256},{"i":264},{"i":272},{"i":280},{"i":288},{"i":296},{"i":304},{"i":312},{"i":320},{"i":328},{"i":336},{"i":344},{"i":352},{"i":360},{"i":368},{"i":376},{"i":384},{"i":392},{"i":400},{"i":408},{"i":416}],
"sep":[{"i":18},{"i":42},{"i":66},{"i":87},{"i":111},{"i":135},{"i":159},{"i":183},{"i":207},{"i":231},{"i":255},{"i":279},{"i":303},{"i":327},{"i":351}],
"lv":[{"p":0.70211,"t":"0.70211","k":"a"},{"p":0.69945,"t":"0.69945","k":"b"},{"p":0.69548,"t":"0.69548","k":"b"},{"p":0.693,"t":"0.69300","k":"b"},{"p":0.69116,"t":"0.69116","k":"a"},{"p":0.68689,"t":"0.68689","k":"b"},{"p":0.69039,"t":"0.69039","k":"q"}],
"mg":[{"v":0.001254},{"v":-0.00216}],
"hd":[{"i":0.9,"p":0.70377,"t":"▼ AUDUSD,H1\u00a0\u00a00.69046 0.69064 0.69038 0.69039"}],
"md":[{"i":0.9,"v":0.001,"t":"MACD(12,26,9) 0.000248 0.000249"}]
},
"vconcat":[
{
"width":1167,"height":470,
"layer":[
{"data":{"name":"hg"},"mark":{"type":"rule","color":"#c8c8c8","strokeDash":[3,2]},
 "encoding":{"y":{"field":"p","type":"quantitative","scale":{"domain":[0.68429,0.70403],"nice":false,"zero":false},
  "axis":{"orient":"right","values":[0.70305,0.7011,0.7001,0.6991,0.69815,0.69715,0.69615,0.6952,0.6942,0.69325,0.69225,0.6893,0.6883,0.68735,0.68635,0.6854,0.6844],"tickCount":100,"format":".5f","grid":false,"title":null,"tickSize":2,"labelPadding":2,"labelOverlap":false,"labelBound":false}}}},
{"data":{"name":"vg"},"mark":{"type":"rule","color":"#c8c8c8","strokeDash":[3,2]},
 "encoding":{"x":{"field":"i","type":"quantitative","scale":{"domain":[-0.9,418.9],"nice":false,"zero":false},"axis":null}}},
{"data":{"name":"sep"},"mark":{"type":"rule","color":"#202020","strokeDash":[2,2]},
 "encoding":{"x":{"field":"i","type":"quantitative","axis":null}}},
{"data":{"name":"bars"},"mark":{"type":"rule","color":"#4466e0","strokeWidth":1},
 "encoding":{"x":{"field":"i","type":"quantitative","axis":null},"y":{"field":"l","type":"quantitative"},"y2":{"field":"h"}}},
{"data":{"name":"bars"},"mark":{"type":"rule","strokeWidth":2},
 "encoding":{"x":{"field":"i","type":"quantitative","axis":null},"y":{"field":"o","type":"quantitative"},"y2":{"field":"c"},
  "color":{"condition":{"test":"datum.c>=datum.o","value":"#8ea4ee"},"value":"#2f52d0"}}},
{"data":{"name":"ma"},"mark":{"type":"line","strokeWidth":1,"interpolate":"monotone"},
 "encoding":{"x":{"field":"i","type":"quantitative","axis":null},"y":{"field":"v","type":"quantitative"},
  "color":{"field":"s","type":"nominal","scale":{"domain":["b","r","g"],"range":["#3f3fff","#ff3a3a","#2ee02e"]},"legend":null}}},
{"data":{"name":"lv"},"mark":{"type":"rule"},
 "encoding":{"y":{"field":"p","type":"quantitative"},
  "color":{"condition":[{"test":"datum.k=='a'","value":"#f59a9a"},{"test":"datum.k=='q'","value":"#c8c8c8"}],"value":"#ff2b2b"},
  "strokeWidth":{"condition":{"test":"datum.k=='a'","value":2},"value":1}}},
{"data":{"name":"lv"},"mark":{"type":"tick","orient":"horizontal","size":30,"thickness":10,"opacity":1},
 "encoding":{"x":{"datum":424.6,"type":"quantitative","axis":null},"y":{"field":"p","type":"quantitative"},
  "color":{"condition":{"test":"datum.k=='q'","value":"#000000"},"value":"#ff0000"}}},
{"data":{"name":"lv"},"mark":{"type":"text","align":"left","baseline":"middle","color":"#ffffff","fontSize":6.5,"font":"Liberation Sans"},
 "encoding":{"x":{"datum":420.3,"type":"quantitative","axis":null},"y":{"field":"p","type":"quantitative"},"text":{"field":"t"}}},
{"data":{"name":"hd"},"mark":{"type":"text","align":"left","baseline":"middle","color":"#000000","fontSize":6.5,"font":"Liberation Sans"},
 "encoding":{"x":{"field":"i","type":"quantitative","axis":null},"y":{"field":"p","type":"quantitative"},"text":{"field":"t"}}}
]
},
{
"width":1167,"height":34,
"layer":[
{"data":{"name":"mg"},"mark":{"type":"rule","color":"#c8c8c8","strokeDash":[3,2]},
 "encoding":{"y":{"field":"v","type":"quantitative","scale":{"domain":[-0.00303,0.00205],"nice":false,"zero":false},
  "axis":{"orient":"right","values":[0.001254,0,-0.00216],"tickCount":20,"labelExpr":"datum.value>0.001?'0.001254':(datum.value<-0.001?'-0.00216':'0.00')","grid":false,"title":null,"tickSize":2,"labelPadding":2,"labelOverlap":false,"labelBound":false}}}},
{"data":{"name":"vg"},"mark":{"type":"rule","color":"#c8c8c8","strokeDash":[3,2]},
 "encoding":{"x":{"field":"i","type":"quantitative","scale":{"domain":[-0.9,418.9],"nice":false,"zero":false},
  "axis":{"orient":"bottom","values":[0,16,32,48,64,80,96,112,128,144,160,176,192,208,224,240,256,272,288,304,320],"tickCount":100,
   "labelExpr":"['26 Dec 2019','26 Dec 22:00','27 Dec 14:00','30 Dec 06:00','30 Dec 22:00','31 Dec 14:00','2 Jan 09:00','3 Jan 01:00','3 Jan 17:00','6 Jan 09:00','7 Jan 01:00','7 Jan 17:00','8 Jan 09:00','9 Jan 01:00','9 Jan 17:00','10 Jan 09:00','13 Jan 01:00','13 Jan 17:00','14 Jan 09:00','15 Jan 01:00','15 Jan 17:00'][round(datum.value/16)]",
   "labelAlign":"left","labelPadding":3,"tickSize":3,"grid":false,"title":null,"labelFlush":false,"labelOverlap":false}}}},
{"data":{"name":"sep"},"mark":{"type":"rule","color":"#202020","strokeDash":[2,2]},
 "encoding":{"x":{"field":"i","type":"quantitative"}}},
{"data":{"name":"bars"},"mark":{"type":"rule","color":"#b4b4b4","strokeWidth":1},
 "encoding":{"x":{"field":"i","type":"quantitative"},"y":{"field":"m","type":"quantitative"},"y2":{"datum":0}}},
{"data":{"name":"sig"},"mark":{"type":"line","color":"#ff2020","strokeWidth":1,"strokeDash":[2,2],"interpolate":"monotone"},
 "encoding":{"x":{"field":"i","type":"quantitative"},"y":{"field":"v","type":"quantitative"}}},
{"data":{"name":"md"},"mark":{"type":"text","align":"left","baseline":"middle","color":"#000000","fontSize":6.5,"font":"Liberation Sans"},
 "encoding":{"x":{"field":"i","type":"quantitative"},"y":{"field":"v","type":"quantitative"},"text":{"field":"t"}}}
]
}
],
"config":{
"view":{"stroke":"#707070"},
"axis":{"labelFont":"Liberation Sans","labelFontSize":6.5,"labelColor":"#000000","domainColor":"#404040","tickColor":"#404040","labelOverlap":false,"labelBound":false},
"text":{"font":"Liberation Sans"}
}
}
